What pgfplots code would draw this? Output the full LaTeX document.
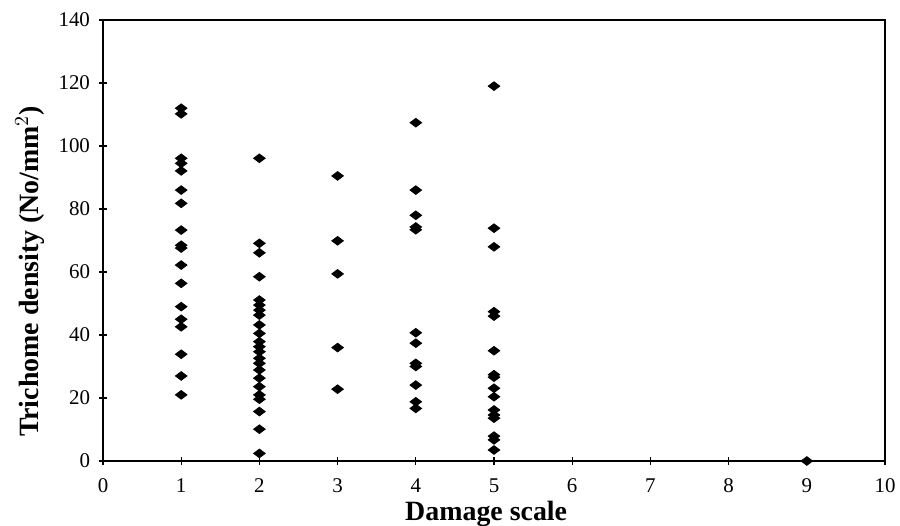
\documentclass[border=0pt]{standalone}
\usepackage{pgfplots}
\pgfplotsset{compat=1.18}
\usepackage{fontspec}
\setmainfont{Liberation Serif}
\begin{document}
\begin{tikzpicture}
\useasboundingbox (-51.5bp,-32.5bp) rectangle (398.5bp,230.5bp);
\begin{axis}[
  at={(0,0)}, anchor=south west,
  scale only axis,
  width=391bp, height=220.5bp,
  xmin=0, xmax=10, ymin=0, ymax=140,
  xtick={0,1,...,10}, ytick={0,20,...,140},
  tick pos=left, tick align=center,
  major tick length=4bp,
  axis line style={line width=0.8bp},
  every tick/.style={black, line width=0.6bp},
  /pgf/number format/assume math mode=true,
  tick label style={font=\fontsize{10.5}{12}\selectfont},
  xticklabel style={yshift=-3.5bp},
  yticklabel style={xshift=-1bp},
  xlabel={Damage scale},
  ylabel={Trichome density (No/mm$^2$)},
  label style={font=\fontsize{14}{15}\selectfont\bfseries},
  xlabel style={at={(axis description cs:0.49,0)}, anchor=center, yshift=-26.5bp, inner sep=1pt},
  ylabel style={at={(axis description cs:0,0.43)}, anchor=center, yshift=36.5bp},
]
\addplot[only marks, mark=diamond*, mark size=2.9bp, mark options={rotate=90, fill=black, draw=black}]
coordinates {
(1,112.0) (1,110.2) (1,96.1) (1,94.5) (1,92.1) (1,86.0) (1,81.8) (1,73.3) (1,68.5) (1,67.6)
(1,62.2) (1,56.4) (1,49.0) (1,45.0) (1,42.6) (1,33.9) (1,27.0) (1,21.0)
(2,96.1) (2,69.1) (2,66.1) (2,58.5) (2,51.1) (2,49.5) (2,47.9) (2,46.3) (2,43.2) (2,40.5)
(2,37.9) (2,36.3) (2,34.7) (2,32.6) (2,31.0) (2,28.9) (2,26.3) (2,23.6) (2,21.0) (2,19.6)
(2,15.7) (2,10.1) (2,2.4)
(3,90.5) (3,69.9) (3,59.4) (3,36.0) (3,22.8)
(4,107.4) (4,86.0) (4,78.0) (4,74.3) (4,73.4) (4,40.7) (4,37.4) (4,31.0) (4,30.0) (4,24.1)
(4,18.8) (4,16.7)
(5,119.0) (5,73.9) (5,68.0) (5,47.4) (5,46.0) (5,35.0) (5,27.4) (5,26.6) (5,23.1) (5,20.4)
(5,16.2) (5,14.6) (5,13.6) (5,7.9) (5,6.7) (5,3.5)
(9,0)
};
\end{axis}
\end{tikzpicture}
\end{document}
